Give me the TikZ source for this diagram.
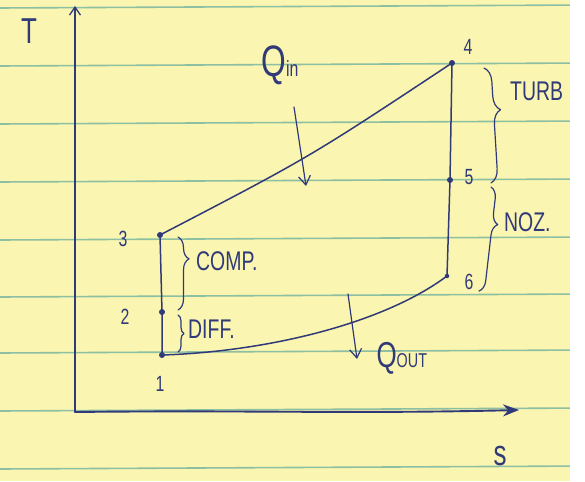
\documentclass[tikz,border=0pt]{standalone}
\usepackage{fontspec}
\setmainfont{Liberation Sans}
\newfontfamily\hand[FakeStretch=0.72]{Liberation Sans}
\usetikzlibrary{arrows.meta,decorations.pathreplacing}
\definecolor{paper}{HTML}{FAF5B0}
\definecolor{ruling}{HTML}{8DBFA3}
\definecolor{ink}{HTML}{313A78}
\tikzset{
  pen/.style={draw=ink, line width=1.5pt, line cap=round, line join=round},
  dot/.style={circle, fill=ink, inner sep=0pt, minimum size=6pt},
  lbl/.style={text=ink, inner sep=1pt, font=\hand\fontsize{22}{22}\selectfont},
  bigl/.style={text=ink, inner sep=1pt, font=\hand\fontsize{27}{27}\selectfont},
  curly/.style={pen, line width=1.2pt, decorate},
  heat/.style={pen, line width=1.2pt, -{Straight Barb[length=9pt,width=12pt,line width=1.2pt]}}
}
\begin{document}
\begin{tikzpicture}[x=1pt,y=-1pt]
\useasboundingbox (0,0) rectangle (585,481);
\fill[paper] (0,0) rectangle (585,481);
% ruled lines
\foreach \yy in {7,65,123,181,239,296,352,410,468}
  \draw[ruling, line width=1.6pt] (0,\yy+1) -- (585,\yy-2);
% axes
\coordinate (O) at (75,412);
\coordinate (Ttop) at (75,6);
\coordinate (Send) at (519,410);
\draw[pen, -{Straight Barb[length=8pt,width=11pt,line width=1.3pt]}] (O) -- (Ttop);
\draw[pen, line width=1.9pt, -{Stealth[length=16pt,width=12pt]}] (O) .. controls (250,410) and (350,414) .. (Send);
\node[text=ink, font=\hand\fontsize{36}{36}\selectfont] (Tlab) at (29,31) {T};
\node[text=ink, font=\hand\fontsize{36}{36}\selectfont] (slab) at (500,456) {s};
% state points
\node[dot] (p1) at (162,355) {};
\node[dot] (p2) at (162,312) {};
\node[dot] (p3) at (160,235) {};
\node[dot] (p4) at (452,63) {};
\node[dot] (p5) at (450,180) {};
\node[dot, minimum size=4.5pt] (p6) at (447,276) {};
% cycle
\draw[pen] (p1.center) -- (p2.center) -- (p3.center);
\draw[pen] (p3.center) .. controls (310,157) .. (p4.center);
\draw[pen] (p4.center) -- (p5.center) -- (p6.center);
\draw[pen] (p1.center) .. controls (260,352) and (380,326) .. (p6.center);
% point labels
\node[lbl] (l1) at (160,384) {1};
\node[lbl] (l2) at (125,317) {2};
\node[lbl] (l3) at (123,239) {3};
\node[lbl] (l4) at (468,47) {4};
\node[lbl] (l5) at (469,177) {5};
\node[lbl] (l6) at (469,282) {6};
% braces
\coordinate (b1a) at (178,237);
\coordinate (b1b) at (178,310);
\coordinate (b2a) at (178,315);
\coordinate (b2b) at (178,352);
\coordinate (b3a) at (484,68);
\coordinate (b3b) at (491,183);
\coordinate (b4a) at (491,187);
\coordinate (b4b) at (479,291);
\draw[curly, decoration={brace, amplitude=11pt, aspect=0.3}] (b1a) -- (b1b);
\draw[curly, decoration={brace, amplitude=6pt, aspect=0.5}] (b2a) -- (b2b);
\draw[curly, decoration={brace, amplitude=14pt, aspect=0.37}] (b3a) -- (b3b);
\draw[curly, decoration={brace, amplitude=11pt, aspect=0.35}] (b4a) -- (b4b);
\node[bigl, anchor=west] (comp) at (195,261) {COMP.};
\node[bigl, anchor=west] (diff) at (187,329) {DIFF.};
\node[bigl, anchor=west] (turb) at (509,91) {TURB};
\node[bigl, anchor=west] (noz) at (503,222) {NOZ.};
% heat arrows
\node[text=ink, anchor=west, font=\hand\fontsize{44}{44}\selectfont] (qin) at (258,65)
  {Q{\fontsize{22}{22}\selectfont in}};
\coordinate (qina) at (294,107);
\coordinate (qinb) at (306,186);
\draw[heat] (qina) -- (qinb);
\node[text=ink, anchor=west, font=\hand\fontsize{36}{36}\selectfont] (qout) at (373,358)
  {Q{\fontsize{20}{20}\selectfont OUT}};
\coordinate (qouta) at (348,294);
\coordinate (qoutb) at (357,359);
\draw[heat] (qouta) -- (qoutb);
% white margin at the right edge of the sheet
\fill[white] (570,0) rectangle (585,481);
\end{tikzpicture}
\end{document}
